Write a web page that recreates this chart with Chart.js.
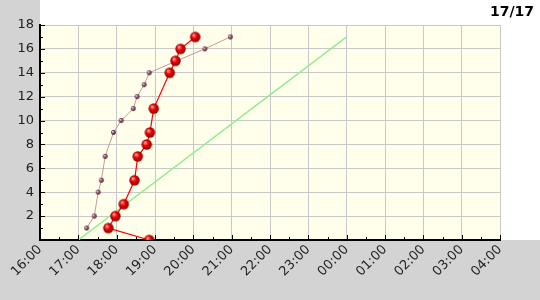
<!DOCTYPE html>
<html>
<head>
<meta charset="utf-8">
<script src="https://cdn.jsdelivr.net/npm/chart.js@4/dist/chart.umd.min.js"></script>
<style>
  html, body { margin: 0; padding: 0; background: #fff; }
  #wrap { width: 540px; height: 300px; }
</style>
</head>
<body>
<div id="wrap"><canvas id="chart"></canvas></div>
<script>
// x axis: hours from 16:00 to 04:00
const hourLabels = ['16:00', '17:00', '18:00', '19:00', '20:00', '21:00', '22:00',
    '23:00', '00:00', '01:00', '02:00', '03:00', '04:00'];

// actual progress (red balls)
const actualTimes = ['18:51', '17:47', '17:58', '18:11', '18:28', '18:33', '18:47',
    '18:52', '18:58', '19:23', '19:32', '19:40', '20:03'];
const actualValues = [0, 1, 2, 3, 5, 7, 8, 9, 11, 14, 15, 16, 17];

// previous run (small dots)
const previousTimes = ['17:13', '17:25', '17:31', '17:36', '17:42', '17:55', '18:07',
    '18:26', '18:32', '18:43', '18:51', '19:34', '20:18', '20:58'];
const previousValues = [1, 2, 4, 5, 7, 9, 10, 11, 12, 13, 14, 15, 16, 17];

// planned line
const planTimes = ['17:00', '00:00'];
const planValues = [0, 17];

const titleText = '17/17';

// hours since 16:00, wrapping past midnight
function toHours(t) {
    const parts = t.split(':');
    let h = parseInt(parts[0], 10) + parseInt(parts[1], 10) / 60 - 16;
    if (h < 0) h += 24;
    return h;
}

function toPoints(times, values) {
    return times.map((t, i) => ({ x: toHours(t), y: values[i] }));
}

function makeBall(r, inner, mid, outer) {
    const c = document.createElement('canvas');
    const s = Math.ceil(r * 2 + 2);
    c.width = s;
    c.height = s;
    const g = c.getContext('2d');
    const cx = s / 2, cy = s / 2;
    const grad = g.createRadialGradient(cx - r * 0.35, cy - r * 0.4, r * 0.1, cx, cy, r);
    grad.addColorStop(0, inner);
    grad.addColorStop(0.45, mid);
    grad.addColorStop(1, outer);
    g.fillStyle = grad;
    g.beginPath();
    g.arc(cx, cy, r, 0, Math.PI * 2);
    g.fill();
    return c;
}

const redBall = makeBall(5.2, '#ff9a9a', '#ee0000', '#8a0000');
const smallDot = makeBall(2.4, '#ffc8e0', '#a05070', '#301020');

// backgrounds: grey frame left/bottom, yellow plot area
const backgroundPlugin = {
    id: 'backgrounds',
    beforeDraw(chart) {
        const ctx = chart.ctx;
        const a = chart.chartArea;
        ctx.save();
        ctx.fillStyle = '#ffffff';
        ctx.fillRect(0, 0, chart.width, chart.height);
        ctx.fillStyle = '#d3d3d3';
        ctx.fillRect(0, 0, a.left, chart.height);
        ctx.fillRect(0, a.bottom, chart.width, chart.height - a.bottom);
        ctx.fillStyle = '#ffffec';
        ctx.fillRect(a.left, a.top, a.right - a.left, a.bottom - a.top);
        ctx.restore();
    }
};

// ticks pointing into the plot, with minor ticks between
const innerTicksPlugin = {
    id: 'innerTicks',
    afterDatasetsDraw(chart) {
        const ctx = chart.ctx;
        const a = chart.chartArea;
        const xs = chart.scales.x;
        const ys = chart.scales.y;
        ctx.save();
        ctx.strokeStyle = '#000000';
        ctx.lineWidth = 1;
        ctx.beginPath();
        for (let h = xs.min; h <= xs.max; h += 0.5) {
            const px = Math.round(xs.getPixelForValue(h)) + 0.5;
            const len = Number.isInteger(h) ? 5 : 3;
            ctx.moveTo(px, a.bottom);
            ctx.lineTo(px, a.bottom - len);
        }
        for (let v = ys.min + 1; v <= ys.max; v += 1) {
            const py = Math.round(ys.getPixelForValue(v)) + 0.5;
            const len = v % 2 === 0 ? 5 : 3;
            ctx.moveTo(a.left, py);
            ctx.lineTo(a.left + len, py);
        }
        ctx.stroke();
        ctx.restore();
    }
};

const titlePlugin = {
    id: 'cornerTitle',
    afterDraw(chart) {
        const ctx = chart.ctx;
        ctx.save();
        ctx.font = 'bold 14px "DejaVu Sans"';
        ctx.fillStyle = '#000000';
        ctx.textAlign = 'right';
        ctx.textBaseline = 'middle';
        ctx.fillText(titleText, chart.width - 6, 12);
        ctx.restore();
    }
};

const ctx = document.getElementById('chart').getContext('2d');
const chart = new Chart(ctx, {
    type: 'scatter',
    data: {
        datasets: [{
            label: 'plan',
            data: toPoints(planTimes, planValues),
            showLine: true,
            borderColor: '#90ee90',
            borderWidth: 1.5,
            pointRadius: 0,
            order: 3
        }, {
            label: 'previous',
            data: toPoints(previousTimes, previousValues),
            showLine: true,
            borderColor: '#c49a9a',
            borderWidth: 1,
            pointStyle: smallDot,
            order: 2
        }, {
            label: 'actual',
            data: toPoints(actualTimes, actualValues),
            showLine: true,
            borderColor: '#ff0000',
            borderWidth: 1.2,
            pointStyle: redBall,
            order: 1
        }]
    },
    options: {
        responsive: true,
        maintainAspectRatio: false,
        animation: false,
        layout: {
            padding: { top: 25, right: 40, left: 0, bottom: 0 }
        },
        plugins: {
            legend: { display: false },
            tooltip: { enabled: false }
        },
        scales: {
            x: {
                type: 'linear',
                min: 0,
                max: 12,
                afterFit: (scale) => { scale.height = 60; },
                afterBuildTicks: (scale) => {
                    scale.ticks = hourLabels.map((l, i) => ({ value: i }));
                },
                ticks: {
                    autoSkip: false,
                    minRotation: 45,
                    maxRotation: 45,
                    padding: 2,
                    color: '#222222',
                    font: { family: '"DejaVu Sans"', size: 13 },
                    callback: (value, index) => hourLabels[index]
                },
                grid: {
                    color: '#c8c8c8',
                    lineWidth: 1,
                    drawTicks: false
                },
                border: { color: '#000000', width: 2 }
            },
            y: {
                min: 0,
                max: 18,
                afterFit: (scale) => { scale.width = 40; },
                ticks: {
                    stepSize: 2,
                    padding: 6,
                    color: '#222222',
                    font: { family: '"DejaVu Sans"', size: 13 },
                    callback: (value) => value === 0 ? '' : value
                },
                grid: {
                    color: '#c8c8c8',
                    lineWidth: 1,
                    drawTicks: false
                },
                border: { color: '#000000', width: 2 }
            }
        }
    },
    plugins: [backgroundPlugin, innerTicksPlugin, titlePlugin]
});
</script>
</body>
</html>
